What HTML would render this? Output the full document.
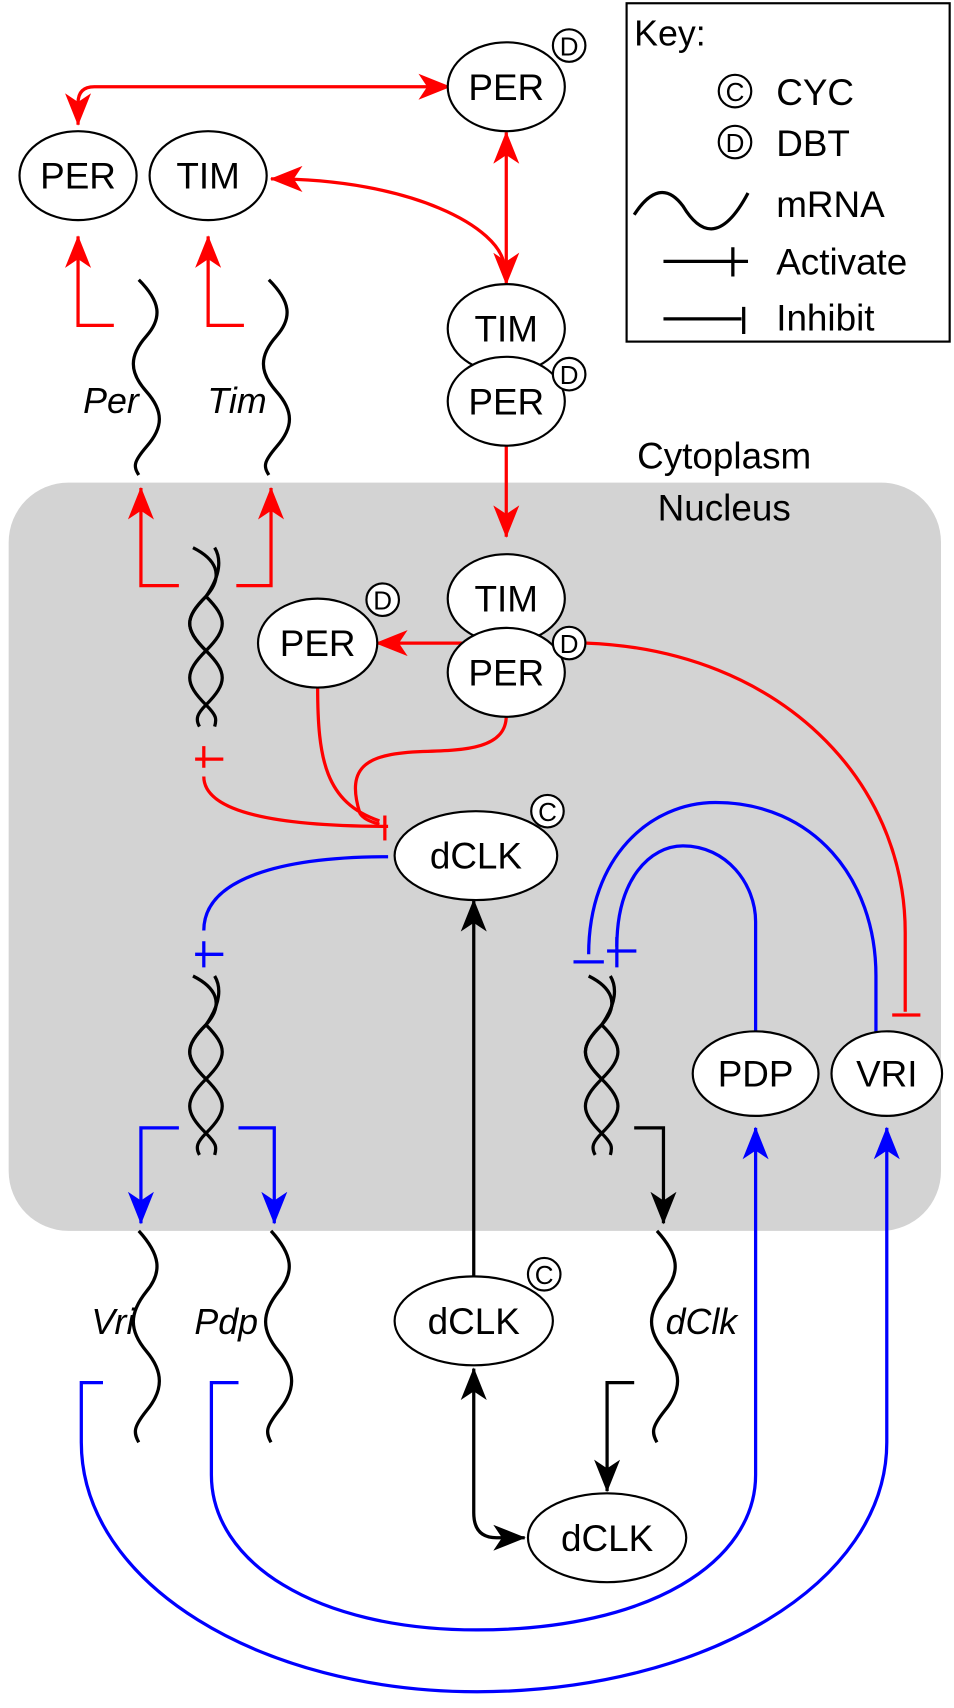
<!DOCTYPE html>
<html><head><meta charset="utf-8"><style>
html,body{margin:0;padding:0;background:#fff;}
svg{display:block;}
text{font-family:"Liberation Sans","DejaVu Sans",sans-serif;}
</style></head><body>
<svg width="954" height="1708" viewBox="0 0 880 1575" preserveAspectRatio="none" xmlns="http://www.w3.org/2000/svg">
<defs>
<marker id="ar" viewBox="0 0 30 24" refX="29" refY="12" markerWidth="30" markerHeight="24" markerUnits="userSpaceOnUse" orient="auto-start-reverse"><path d="M0,0 L30,12 L0,24 L8,12 Z" fill="#f00"/></marker>
<marker id="ab" viewBox="0 0 30 24" refX="29" refY="12" markerWidth="30" markerHeight="24" markerUnits="userSpaceOnUse" orient="auto-start-reverse"><path d="M0,0 L30,12 L0,24 L8,12 Z" fill="#00f"/></marker>
<marker id="ak" viewBox="0 0 30 24" refX="29" refY="12" markerWidth="30" markerHeight="24" markerUnits="userSpaceOnUse" orient="auto-start-reverse"><path d="M0,0 L30,12 L0,24 L8,12 Z" fill="#000"/></marker>
<g id="wave"><path d="M0,0 C20,20 22,35 7,52 C-9,70 -9,85 7,103 C23,121 23,136 7,154 C-5,168 -5,172 0,180" fill="none" stroke="#000" stroke-width="3"/></g>
<g id="wave2"><path d="M0,0 C20,22 22,38 7,56 C-9,76 -9,92 7,111 C23,130 23,147 7,166 C-5,181 -5,186 0,195" fill="none" stroke="#000" stroke-width="3"/></g>
<g id="helix" fill="none" stroke="#000" stroke-width="3"><path d="M-12,0 C8,10 18,25 0,45 C-20,65 -20,75 0,95 C20,115 20,125 0,145 C-8,153 -10,158 -6,165"/><path d="M8,0 C14,10 14,25 0,45 C-20,65 -20,75 0,95 M0,45 C20,65 20,75 0,95 C-20,115 -20,125 0,145 C10,155 10,158 8,165"/></g>
</defs>
<rect x="8" y="445" width="860" height="690" rx="55" fill="#d3d3d3"/>
<text x="668" y="432" font-size="34" text-anchor="middle">Cytoplasm</text>
<text x="668" y="480" font-size="34" text-anchor="middle">Nucleus</text>
<!-- Key -->
<rect x="578" y="3" width="298" height="312" fill="#fff" stroke="#000" stroke-width="2"/>
<text x="585" y="42" font-size="33">Key:</text>
<circle cx="678" cy="84" r="15" fill="#fff" stroke="#000" stroke-width="2"/><text x="678" y="93" font-size="24" text-anchor="middle">C</text>
<text x="716" y="97" font-size="34">CYC</text>
<circle cx="678" cy="131" r="15" fill="#fff" stroke="#000" stroke-width="2"/><text x="678" y="140" font-size="24" text-anchor="middle">D</text>
<text x="716" y="144" font-size="34">DBT</text>
<path d="M585,198 C600,175 615,170 630,190 C645,215 665,225 690,178" fill="none" stroke="#000" stroke-width="3"/>
<text x="716" y="200" font-size="34">mRNA</text>
<path d="M612,241 L676,241 M676,228 L676,255 M665,241 L690,241" stroke="#000" stroke-width="3"/>
<text x="716" y="253" font-size="34">Activate</text>
<path d="M612,294 L684,294 M686,283 L686,308" stroke="#000" stroke-width="3"/>
<text x="716" y="305" font-size="34">Inhibit</text>
<!-- red connectors -->
<g fill="none" stroke="#f00" stroke-width="3">
<path d="M72,115 L72,95 Q72,80 87,80 L415,80" marker-start="url(#ar)" marker-end="url(#ar)"/>
<path d="M467,122 L467,262" marker-start="url(#ar)" marker-end="url(#ar)"/>
<path d="M250,165 C380,165 462,210 465,245" marker-start="url(#ar)"/>
<path d="M105,300 L72,300 L72,218" marker-end="url(#ar)"/>
<path d="M225,300 L192,300 L192,218" marker-end="url(#ar)"/>
<path d="M467,410 L467,495" marker-end="url(#ar)"/>
<path d="M165,540 L130,540 L130,450" marker-end="url(#ar)"/>
<path d="M218,540 L250,540 L250,450" marker-end="url(#ar)"/>
<path d="M455,593 L347,593" marker-end="url(#ar)"/>
<path d="M180,700 L206,700 M188,688 L188,708"/>
<path d="M188,716 C188,745 240,762 358,762"/>
<path d="M293,633 C293,700 300,740 350,757"/>
<path d="M467,660 C467,690 430,692 390,693 C340,695 318,705 332,750 C335,755 342,758 350,760"/>
<path d="M355,752 L355,775"/>
<path d="M541,593 C720,600 835,720 835,860 L835,933"/>
<path d="M823,936 L849,936"/>
</g>
<!-- blue connectors -->
<g fill="none" stroke="#00f" stroke-width="3">
<path d="M358,790 C260,790 188,810 188,858"/>
<path d="M180,880 L206,880 M188,868 L188,892"/>
<path d="M165,1040 L130,1040 L130,1128" marker-end="url(#ab)"/>
<path d="M220,1040 L253,1040 L253,1128" marker-end="url(#ab)"/>
<path d="M543,880 C543,790 600,740 660,740 C750,740 808,810 808,900 L808,952"/>
<path d="M529,887 L557,887"/>
<path d="M569,873 C569,810 600,780 630,780 C670,780 697,815 697,850 L697,952"/>
<path d="M560,877 L587,877 M569,864 L569,892"/>
<path d="M95,1275 L75,1275 L75,1330 C75,1460 240,1560 440,1560 C650,1560 818,1460 818,1330 L818,1040" marker-end="url(#ab)"/>
<path d="M220,1275 L195,1275 L195,1360 C195,1440 290,1503 440,1503 C600,1503 697,1440 697,1360 L697,1040" marker-end="url(#ab)"/>
</g>
<!-- black connectors -->
<g fill="none" stroke="#000" stroke-width="3">
<path d="M437,1178 L437,830" marker-end="url(#ak)"/>
<path d="M585,1040 L612,1040 L612,1128" marker-end="url(#ak)"/>
<path d="M437,1262 L437,1395 Q437,1418 458,1418 L484,1418" marker-start="url(#ak)" marker-end="url(#ak)"/>
<path d="M585,1275 L560,1275 L560,1375" marker-end="url(#ak)"/>
</g>
<!-- mRNA waves -->
<use href="#wave" x="128" y="258"/><use href="#wave" x="248" y="258"/>
<use href="#wave2" x="128" y="1135"/><use href="#wave2" x="250" y="1135"/><use href="#wave2" x="606" y="1135"/>
<g font-size="33" font-style="italic">
<text x="128" y="381" text-anchor="end">Per</text><text x="246" y="381" text-anchor="end">Tim</text>
<text x="124" y="1230" text-anchor="end">Vri</text><text x="238" y="1230" text-anchor="end">Pdp</text><text x="614" y="1230">dClk</text>
</g>
<!-- helices -->
<use href="#helix" x="190" y="505"/><use href="#helix" x="190" y="900"/><use href="#helix" x="555" y="900"/>
<!-- nodes -->
<g fill="#fff" stroke="#000" stroke-width="2">
<ellipse cx="467" cy="80" rx="54" ry="41"/><circle cx="525" cy="42" r="15"/>
<ellipse cx="72" cy="162" rx="54" ry="41"/><ellipse cx="192" cy="162" rx="54" ry="41"/>
<ellipse cx="467" cy="303" rx="54" ry="41"/><ellipse cx="467" cy="370" rx="54" ry="41"/><circle cx="525" cy="345" r="15"/>
<ellipse cx="467" cy="552" rx="54" ry="41"/><ellipse cx="467" cy="620" rx="54" ry="41"/><circle cx="525" cy="593" r="15"/>
<ellipse cx="293" cy="593" rx="55" ry="41"/><circle cx="353" cy="553" r="15"/>
<ellipse cx="439" cy="789" rx="75" ry="41"/><circle cx="505" cy="748" r="15"/>
<ellipse cx="697" cy="990" rx="58" ry="39"/><ellipse cx="818" cy="990" rx="51" ry="39"/>
<ellipse cx="437" cy="1218" rx="73" ry="41"/><circle cx="502" cy="1175" r="15"/>
<ellipse cx="560" cy="1418" rx="73" ry="41"/>
</g>
<g font-size="34" text-anchor="middle">
<text x="467" y="92">PER</text><text x="72" y="174">PER</text><text x="192" y="174">TIM</text>
<text x="467" y="315">TIM</text><text x="467" y="382">PER</text>
<text x="467" y="564">TIM</text><text x="467" y="632">PER</text><text x="293" y="605">PER</text>
<text x="439" y="801">dCLK</text><text x="697" y="1002">PDP</text><text x="818" y="1002">VRI</text>
<text x="437" y="1230">dCLK</text><text x="560" y="1430">dCLK</text>
</g>
<g font-size="24" text-anchor="middle">
<text x="525" y="51">D</text><text x="525" y="354">D</text><text x="525" y="602">D</text><text x="353" y="562">D</text>
<text x="505" y="757">C</text><text x="502" y="1184">C</text>
</g>
</svg>
</body></html>
